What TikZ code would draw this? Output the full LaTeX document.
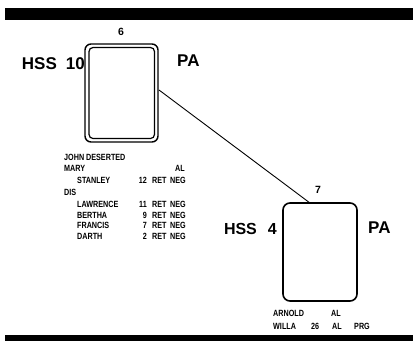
\documentclass[tikz,border=0pt]{standalone}
\usepackage{fontspec}
\setmainfont{Liberation Sans}
\newfontfamily\listfont[FakeStretch=0.8]{Liberation Sans}
\tikzset{
  big/.style={font=\fontsize{16}{16}\selectfont\bfseries, inner sep=0pt},
  num/.style={font=\fontsize{10.5}{10.5}\selectfont\bfseries, inner sep=0pt},
  lst/.style={font=\listfont\fontsize{9}{9}\selectfont\bfseries, inner sep=0pt, anchor=base west},
  lstr/.style={font=\listfont\fontsize{9}{9}\selectfont\bfseries, inner sep=0pt, anchor=base east},
  bar/.style={fill=black, draw=none},
}
\begin{document}
\begin{tikzpicture}[x=1pt,y=-1pt]
\useasboundingbox (0,0) rectangle (413,341);
\fill[white] (0,0) rectangle (413,341);
% bars
\path[bar] (5,8) rectangle (413,20);
\path[bar] (5,335) rectangle (413,341);
% box 1 (double)
\draw[line width=1.4pt, rounded corners=6pt] (85,44) rectangle (158,142);
\draw[line width=1.2pt, rounded corners=4pt] (89,47.5) rectangle (154.5,138.5);
\coordinate (b1) at (159,90);
\node[num] (n6) at (121,32) {6};
\node[big, anchor=base east, font=\fontsize{17}{17}\selectfont\bfseries] (h1) at (85,69) {HSS\hspace{9pt}10};
\node[big, anchor=base west, font=\fontsize{17}{17}\selectfont\bfseries] (p1) at (177,66) {PA};
% box 2
\node[draw, line width=1.6pt, rounded corners=7pt, minimum width=74pt, minimum height=98pt, inner sep=0pt] (b2) at (320,252) {};
\node[num] (n7) at (318,190) {7};
\node[big, anchor=base east] (h2) at (277,234) {HSS\hspace{11pt}4};
\node[big, anchor=base west, font=\fontsize{17}{17}\selectfont\bfseries] (p2) at (368,233) {PA};
% connector
\coordinate (c2) at (310,203);
\draw[line width=0.9pt] (b1) -- (c2);
% list under box 1
\node[lst] (l1) at (64,160) {JOHN DESERTED};
\node[lst] (l2) at (64,171.5) {MARY};
\node[lstr] (l2a) at (185,171.5) {AL};
\node[lst] (l3) at (77,183) {STANLEY};
\node[lstr] (l3a) at (147,183) {12};
\node[lst] (l3b) at (152,183) {RET};
\node[lstr] (l3c) at (186,183) {NEG};
\node[lst] (l4) at (64,195) {DIS};
\node[lst] (l5) at (77,207) {LAWRENCE};
\node[lstr] (l5a) at (147,207) {11};
\node[lst] (l5b) at (152,207) {RET};
\node[lstr] (l5c) at (186,207) {NEG};
\node[lst] (l6) at (77,218) {BERTHA};
\node[lstr] (l6a) at (147,218) {9};
\node[lst] (l6b) at (152,218) {RET};
\node[lstr] (l6c) at (186,218) {NEG};
\node[lst] (l7) at (77,228.5) {FRANCIS};
\node[lstr] (l7a) at (147,228.5) {7};
\node[lst] (l7b) at (152,228.5) {RET};
\node[lstr] (l7c) at (186,228.5) {NEG};
\node[lst] (l8) at (77,239) {DARTH};
\node[lstr] (l8a) at (147,239) {2};
\node[lst] (l8b) at (152,239) {RET};
\node[lstr] (l8c) at (186,239) {NEG};
% list under box 2
\node[lst] (m1) at (273,316) {ARNOLD};
\node[lst] (m1a) at (331,316) {AL};
\node[lst] (m2) at (273,329) {WILLA};
\node[lst] (m2a) at (311,329) {26};
\node[lst] (m2b) at (332,329) {AL};
\node[lst] (m2c) at (354,329) {PRG};
\end{tikzpicture}
\end{document}
